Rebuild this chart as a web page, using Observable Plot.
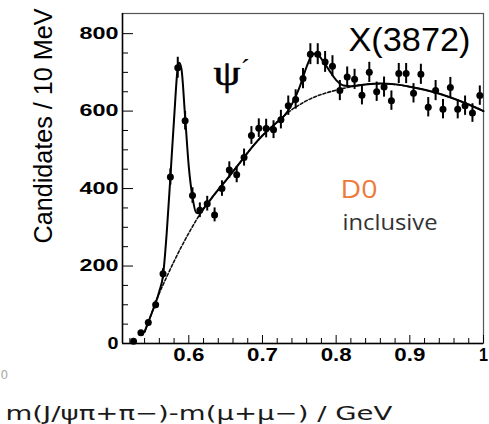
<!DOCTYPE html>
<html><head><meta charset="utf-8">
<script src="https://cdn.jsdelivr.net/npm/d3@7"></script>
<script src="https://cdn.jsdelivr.net/npm/@observablehq/plot@0.6"></script>
<style>body{margin:0;background:#fff}svg{display:block}</style>
</head><body><div id="chart"></div>
<script>
// Bin centres (GeV) and candidates per 10 MeV
const binCenters = [0.525,0.535,0.545,0.555,0.565,0.575,0.585,0.595,0.605,0.615,
  0.625,0.635,0.645,0.655,0.665,0.675,0.685,0.695,0.705,0.715,
  0.725,0.735,0.745,0.755,0.765,0.775,0.785,0.795,0.805,0.815,
  0.825,0.835,0.845,0.855,0.865,0.875,0.885,0.895,0.905,0.915,
  0.925,0.935,0.945,0.955,0.965,0.975,0.985,0.995];
const counts = [6,28,54,100,180,430,712,575,382,344,
  361,332,400,448,436,480,537,556,555,552,
  578,614,630,684,747,747,727,716,653,688,
  682,641,700,650,662,627,697,697,646,695,
  610,653,605,661,605,614,595,640];
const errors = [2.5,5,7,10,13,21,27,24,20,19,
  19,18,20,21,21,22,23,24,24,23,
  24,25,25,26,27,27,27,27,26,26,
  26,25,26,25,26,25,26,26,25,26,
  25,26,25,26,25,25,24,25];

// Fit: total (signal + background)
const fitX = [0.540,0.550,0.555,0.560,0.565,0.570,0.575,0.580,0.585,0.587,0.590,0.595,0.600,0.605,0.610,0.615,0.620,
  0.630,0.640,0.650,0.660,0.670,0.680,0.690,0.700,0.710,0.720,0.730,
  0.740,0.750,0.760,0.765,0.770,0.775,0.780,0.790,0.800,0.810,0.820,
  0.840,0.860,0.880,0.900,0.920,0.940,0.960,0.980,1.000];
const fitTotal = [30,80,105,135,175,285,430,580,712,725,709,585,456,378,338,336,348,
  373,397,420,444,468,493,516,537,555,572,589,
  618,660,715,738,748,746,735,707,680,666,664,
  669,671,669,663,655,645,632,617,600];
// Fit: background only
const bgX = [0.540,0.550,0.560,0.570,0.580,0.590,0.600,0.610,0.620,0.630,0.640,0.650,0.660,0.670,0.680,0.690,
  0.700,0.710,0.720,0.730,0.740,0.750,0.760,0.770,0.780,0.790,0.800,0.820,0.840,0.860,0.880,0.900,0.920,0.940,0.960,0.980,1.000];
const bgY = [30,80,130,172,212,250,285,318,348,373,397,420,444,468,493,516,
  537,555,572,589,604,616,627,636,643,649,654,663,669,671,669,663,655,645,632,617,600];

const xMajorTicks = [0.6,0.7,0.8,0.9,1.0];
const xTickLabels = ["0.6","0.7","0.8","0.9","1"];
const xMinorTicks = [0.52,0.54,0.56,0.58,0.62,0.64,0.66,0.68,0.72,0.74,0.76,0.78,0.82,0.84,0.86,0.88,0.92,0.94,0.96,0.98];
const yMajorTicks = [0,200,400,600,800];
const yMinorTicks = [50,100,150,250,300,350,450,500,550,650,700,750];

const yTitle = "Candidates / 10 MeV";
const xTitle = "m(J/\u03C8\u03C0+\u03C0\u2212)-m(\u03BC+\u03BC\u2212) / GeV";

const points = binCenters.map((x,i)=>({x, y: counts[i], e: errors[i]}));
const total = fitX.map((x,i)=>({x, y: fitTotal[i]}));
const bg = bgX.map((x,i)=>({x, y: bgY[i]}));

const W = 489, H = 424, ML = 122, MT = 13, MR = 6, MB = 81;
const FW = W - ML - MR, FH = H - MT - MB;
const at = (px, py) => ({frameAnchor: "top-left", dx: px - ML, dy: py - MT});

const svg = Plot.plot({
  width: W, height: H,
  marginLeft: ML, marginTop: MT, marginRight: MR, marginBottom: MB,
  style: {background: "#fff", color: "#000", overflow: "visible"},
  x: {domain: [0.51, 1.0], label: null},
  y: {domain: [0, 852], label: null},
  marks: [
    Plot.frame({stroke: "#555", strokeWidth: 1.2}),
    Plot.ruleY([0], {stroke: "#000", strokeWidth: 1.5}),
    Plot.ruleX([0.51], {stroke: "#000", strokeWidth: 1.5}),
    Plot.tickX(xMajorTicks, {x: d => d, insetTop: FH - 8, stroke: "#000"}),
    Plot.tickX(xMinorTicks, {x: d => d, insetTop: FH - 5, stroke: "#000"}),
    Plot.tickY(yMajorTicks, {y: d => d, insetRight: FW - 11, stroke: "#000"}),
    Plot.tickY(yMinorTicks, {y: d => d, insetRight: FW - 6, stroke: "#000"}),
    Plot.axisX(xMajorTicks, {tickSize: 0, tickPadding: 5, label: null,
      tickFormat: (d, i) => xTickLabels[i], fontSize: 18, fontWeight: "bold", fontFamily: "Liberation Sans"}),
    Plot.axisY(yMajorTicks, {tickSize: 0, tickPadding: 4, label: null,
      fontSize: 16, fontWeight: "bold", fontFamily: "Liberation Sans"}),
    Plot.line(bg, {x: "x", y: "y", curve: "monotone-x", stroke: "#111", strokeWidth: 1.6, strokeDasharray: "3,2"}),
    Plot.line(total, {x: "x", y: "y", curve: "monotone-x", stroke: "#000", strokeWidth: 2}),
    Plot.ruleX(points, {x: "x", y1: d => d.y - d.e, y2: d => d.y + d.e, stroke: "#000", strokeWidth: 2}),
    Plot.dot(points, {x: "x", y: "y", r: 3.5, fill: "#000"}),
    Plot.text([yTitle], {...at(51, 125.5), rotate: -90, textAnchor: "middle", lineAnchor: "bottom",
      fontSize: 26, fontFamily: "Liberation Sans", fill: "#000"}),
    Plot.text([xTitle], {...at(5, 419), textAnchor: "start", lineAnchor: "bottom",
      fontSize: 20, fontFamily: "DejaVu Sans", fill: "#1a1a1a"}),
    Plot.text(["X(3872)"], {...at(348, 50), textAnchor: "start", lineAnchor: "bottom",
      fontSize: 33, fontFamily: "Liberation Sans", fill: "#000"}),
    Plot.text(["\u03C8"], {...at(213, 84), textAnchor: "start", lineAnchor: "bottom",
      fontSize: 36, fontFamily: "Liberation Serif", fill: "#000", stroke: "#000", strokeWidth: 0.6}),
    Plot.text(["\u00B4"], {...at(240, 77), textAnchor: "start", lineAnchor: "bottom",
      fontSize: 28, fontFamily: "Liberation Serif", fill: "#000"}),
    Plot.text(["D0"], {...at(340, 197), textAnchor: "start", lineAnchor: "bottom",
      fontSize: 26, fontFamily: "Open Sans", fill: "#EE7A3A"}),
    Plot.text(["inclusive"], {...at(342, 229), textAnchor: "start", lineAnchor: "bottom",
      fontSize: 21, fontFamily: "Open Sans", fill: "#333"}),
    Plot.text(["0"], {...at(0, 378), textAnchor: "start", lineAnchor: "bottom",
      fontSize: 12, fontFamily: "DejaVu Sans", fill: "#aaa"})
  ]
});
document.getElementById("chart").appendChild(svg);

// Stretch text along its own direction to match the reference widths
function stretchText(t, target) {
  const w = t.getComputedTextLength();
  if (!w) return;
  const s = target / w;
  const tr = t.getAttribute("transform") || "";
  t.setAttribute("transform", (tr + ` scale(${s.toFixed(4)},1)`).trim());
}
svg.querySelectorAll('g[aria-label="y-axis tick label"] text').forEach(t =>
  stretchText(t, t.textContent.length === 1 ? 11 : 39));
svg.querySelectorAll('g[aria-label="x-axis tick label"] text').forEach(t =>
  stretchText(t, t.textContent.length === 1 ? 9 : 31));
const widths = new Map([[xTitle, 387], [yTitle, 235], ["X(3872)", 122], ["\u03C8", 27], ["D0", 37], ["inclusive", 95]]);
svg.querySelectorAll('g[aria-label="text"] text').forEach(t => {
  if (widths.has(t.textContent)) stretchText(t, widths.get(t.textContent));
});
</script>
</body></html>
